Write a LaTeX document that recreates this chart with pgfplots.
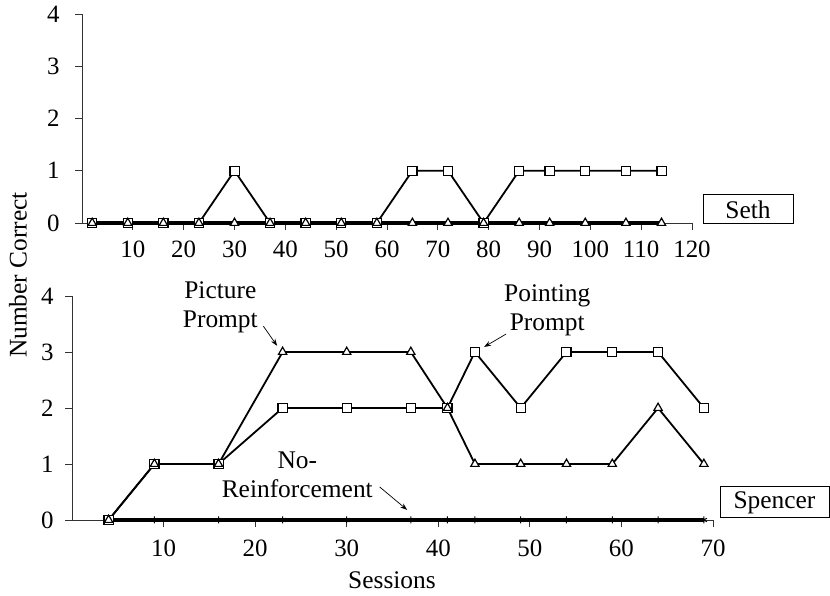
\documentclass[border=0pt]{standalone}
\usepackage{pgfplots}
\pgfplotsset{compat=1.18}
\usepackage{fontspec}
\setmainfont{Liberation Serif}
\usetikzlibrary{arrows.meta}
\begin{document}
\begin{tikzpicture}[x=1bp,y=1bp,font=\fontsize{25.5}{29}\selectfont]
\useasboundingbox (0,0) rectangle (830,596);
\pgfplotsset{
 panel/.style={scale only axis, axis x line=bottom, axis y line=left,
   axis line style={-, line width=0.8bp, black!80},
   tick align=outside, major tick length=7bp,
   tick style={line width=0.8bp, black!80},
   ymin=0, ymax=4, ytick={0,1,2,3,4}, clip=false,
   /pgf/number format/assume math mode=true,
   tick label style={font=\fontsize{25}{29}\selectfont},
   xticklabel style={yshift=-7bp},
   anchor=south west},
 sq/.style={black, line width=1.8bp, mark=square*, mark size=4.6bp,
   mark options={fill=white, line width=1.2bp, solid}},
 tri/.style={black, line width=1.8bp, mark=triangle*, mark size=4.8bp,
   mark options={fill=white, line width=1.2bp, solid}},
 nr/.style={black, line width=4bp, mark=asterisk, mark size=3.5bp,
   mark options={line width=1bp}},
}
% ---------- Seth ----------
\begin{axis}[panel, at={(82bp,373bp)}, width=610bp, height=209bp,
  xmin=0, xmax=120, xtick={10,20,...,120}, yticklabel style={xshift=-12bp}]
\addplot[sq] coordinates {(2,0)(9,0)(16,0)(23,0)(30,1)(37,0)(44,0)(51,0)(58,0)(65,1)(72,1)(79,0)(86,1)(92,1)(99,1)(107,1)(114,1)};
\addplot[tri, line width=3.5bp] coordinates {(2,0)(9,0)(16,0)(23,0)(30,0)(37,0)(44,0)(51,0)(58,0)(65,0)(72,0)(79,0)(86,0)(92,0)(99,0)(107,0)(114,0)};
\end{axis}
% ---------- Spencer ----------
\begin{axis}[panel, at={(72bp,76bp)}, width=641bp, height=224bp,
  xmin=0, xmax=70, xtick={10,20,...,70}, yticklabel style={xshift=-8bp},
  xticklabel style={yshift=-2bp}]
\addplot[nr] coordinates {(4,0)(9,0)(16,0)(23,0)(30,0)(37,0)(41,0)(44,0)(49,0)(54,0)(59,0)(64,0)(69,0)};
\addplot[sq] coordinates {(4,0)(9,1)(16,1)(23,2)(30,2)(37,2)(41,2)(44,3)(49,2)(54,3)(59,3)(64,3)(69,2)};
\addplot[tri] coordinates {(4,0)(9,1)(16,1)(23,3)(30,3)(37,3)(41,2)(44,1)(49,1)(54,1)(59,1)(64,2)(69,1)};
\node[align=center] at (axis cs:16.2,3.80) {Picture\\Prompt};
\draw[-{Stealth[length=7bp,width=5bp]}, line width=0.7bp] (axis cs:20.9,3.46) -- (axis cs:22.4,3.11);
\node[align=center] at (axis cs:51.9,3.75) {Pointing\\Prompt};
\draw[-{Stealth[length=7bp,width=5bp]}, line width=0.7bp] (axis cs:47.4,3.32) -- (axis cs:45.0,3.09);
\node[align=center] at (axis cs:24.6,0.80) {No-\\Reinforcement};
\draw[-{Stealth[length=7bp,width=5bp]}, line width=0.7bp] (axis cs:33.6,0.59) -- (axis cs:36.6,0.18);
\end{axis}
% labels and boxes
\node[rotate=90] at (18,321) {Number Correct};
\node at (392,16) {Sessions};
\draw[line width=1bp] (703,372) rectangle (793,401);
\node at (748,386.5) {Seth};
\draw[line width=1bp] (720,78) rectangle (829,109);
\node at (774.5,93.5) {Spencer};
\end{tikzpicture}
\end{document}
